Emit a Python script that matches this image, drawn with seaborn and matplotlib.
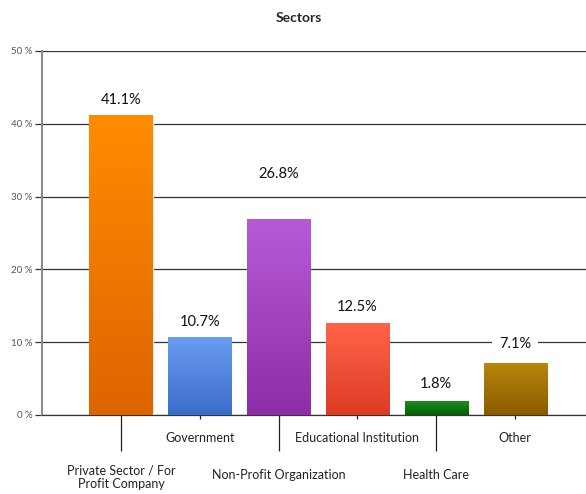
import numpy as np
import pandas as pd
import matplotlib
matplotlib.use("Agg")
import matplotlib.pyplot as plt
import matplotlib.colors as mcolors
import seaborn as sns

# Sector shares (%)
sectors = [
    "Private Sector / For\nProfit Company",
    "Government",
    "Non-Profit Organization",
    "Educational Institution",
    "Health Care",
    "Other",
]
shares = [41.1, 10.7, 26.8, 12.5, 1.8, 7.1]
y_ticks = [0, 10, 20, 30, 40, 50]

# gradient colours (top, bottom) per bar
top_colors = ["#ff8c00", "#6a9cf0", "#b85ad8", "#ff6448", "#1f8c1f", "#b8860b"]
bottom_colors = ["#dd6400", "#3a6cca", "#8e2ca8", "#dc3c24", "#006000", "#8a5c00"]
# vertical offset of the value labels, in points
label_offsets = [6, 6, 28, 7, 8, 9]

sns.set_theme(style="white")
plt.rcParams["font.family"] = ["Lato", "DejaVu Sans"]

df = pd.DataFrame({"sector": sectors, "share": shares})

fig = plt.figure(figsize=(5.86, 4.94), dpi=100)
ax = fig.add_axes([0.072, 0.16, 0.928, 0.737])

sns.barplot(data=df, x="sector", y="share", width=0.8, color="white",
            edgecolor="#e8e8e8", linewidth=0.8, ax=ax, zorder=3)

# paint each bar with a vertical gradient
for patch, c_top, c_bot in zip(ax.patches, top_colors, bottom_colors):
    x0 = patch.get_x()
    w = patch.get_width()
    h = patch.get_height()
    t = np.linspace(0, 1, 256)[:, None]
    ct = np.array(mcolors.to_rgb(c_top))
    cb = np.array(mcolors.to_rgb(c_bot))
    grad = (ct * (1 - t) + cb * t).reshape(256, 1, 3)
    ax.imshow(grad, extent=[x0, x0 + w, 0, h], aspect="auto",
              origin="upper", zorder=3.5, interpolation="bilinear")

for i, (v, off) in enumerate(zip(shares, label_offsets)):
    ax.annotate(f"{v}%", (i, v), xytext=(0, off), textcoords="offset points",
                ha="center", va="bottom", fontsize=10.5, color="#111111",
                bbox=dict(boxstyle="square,pad=0.45", fc="white", ec="none"),
                zorder=5)

ax.set_xlim(-1.0, 5.9)
ax.set_ylim(0, 50)
ax.set_yticks(y_ticks)
ax.set_yticklabels([f"{t} %" for t in y_ticks], fontsize=7, color="#555555")
ax.yaxis.grid(True, color="#333333", linewidth=0.9, zorder=0)
ax.set_axisbelow(True)
ax.tick_params(axis="y", left=True, length=5, width=0.9, color="#333333", pad=2)
ax.set_xlabel("")
ax.set_ylabel("")

for s in ["top", "right"]:
    ax.spines[s].set_visible(False)
ax.spines["left"].set_color("#888888")
ax.spines["left"].set_linewidth(1.4)
ax.spines["bottom"].set_color("#333333")
ax.spines["bottom"].set_linewidth(0.9)

ax.tick_params(axis="x", bottom=True, color="#222222", width=0.9, labelsize=9,
               labelcolor="#222222")
for lab in ax.get_xticklabels():
    lab.set_linespacing(1.2)
    lab.set_multialignment("center")
for i, tick in enumerate(ax.xaxis.get_major_ticks()):
    if i == 0:
        tick._apply_params(size=26, pad=9.5)
    elif i % 2 == 0:
        tick._apply_params(size=26, pad=13)
    else:
        tick._apply_params(size=3, pad=9.5)

fig.suptitle("Sectors", x=0.51, y=0.975, fontsize=10, fontweight="bold")

fig.savefig("out.png", dpi=100)
